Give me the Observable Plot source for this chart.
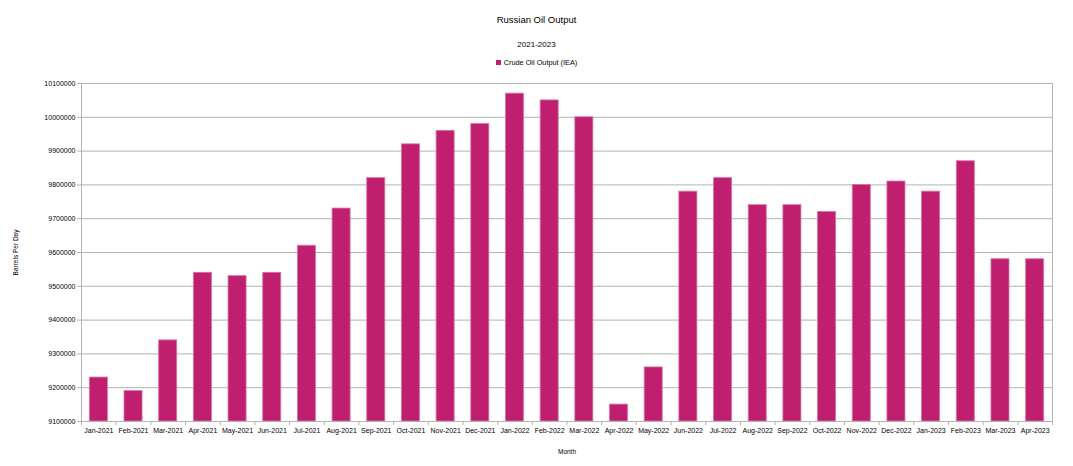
<!DOCTYPE html>
<html>
<head>
<meta charset="utf-8">
<script src="https://cdn.jsdelivr.net/npm/d3@7"></script>
<script src="https://cdn.jsdelivr.net/npm/@observablehq/plot@0.6"></script>
<style>
  body { margin: 0; background: #fff; font-family: "Liberation Sans", Arial, sans-serif; }
  #wrap { position: relative; width: 1073px; height: 466px; overflow: hidden; }
  .t { position: absolute; left: 0; width: 1073px; text-align: center; color: #000; }
  #title { top: 14px; font-size: 9.5px; }
  #subtitle { top: 40px; font-size: 8px; }
  #legend { top: 58px; font-size: 7.3px; }
  #legend .sw { display: inline-block; width: 5px; height: 5px; background: #c01f6f; margin-right: 3px; vertical-align: 0px; }
  #chart { position: absolute; top: 75px; left: 0; }
  #chart svg [aria-label="y-axis label"], #chart svg [aria-label="x-axis label"] { font-size: 6.5px; }
</style>
</head>
<body>
<div id="wrap">
  <div class="t" id="title">Russian Oil Output</div>
  <div class="t" id="subtitle">2021-2023</div>
  <div class="t" id="legend"><span class="sw"></span>Crude Oil Output (IEA)</div>
  <div id="chart"></div>
</div>
<script>
const months = ["Jan-2021","Feb-2021","Mar-2021","Apr-2021","May-2021","Jun-2021","Jul-2021","Aug-2021","Sep-2021","Oct-2021","Nov-2021","Dec-2021","Jan-2022","Feb-2022","Mar-2022","Apr-2022","May-2022","Jun-2022","Jul-2022","Aug-2022","Sep-2022","Oct-2022","Nov-2022","Dec-2022","Jan-2023","Feb-2023","Mar-2023","Apr-2023"];
const output = [9230000,9190000,9340000,9540000,9530000,9540000,9620000,9730000,9820000,9920000,9960000,9980000,10070000,10050000,10000000,9150000,9260000,9780000,9820000,9740000,9740000,9720000,9800000,9810000,9780000,9870000,9580000,9580000];
const yTicks = [9100000,9200000,9300000,9400000,9500000,9600000,9700000,9800000,9900000,10000000,10100000];

const data = months.map((m, i) => ({month: m, value: output[i]}));

const W = 1073, ML = 81, MR = 21;
const step = (W - ML - MR) / months.length;
const inset = step * 0.24;

const plot = Plot.plot({
  width: W,
  height: 391,
  marginTop: 8,
  marginBottom: 45,
  marginLeft: ML,
  marginRight: MR,
  style: {fontFamily: "Liberation Sans, Arial, sans-serif", fontSize: "7px", color: "#000", background: "#fff"},
  x: {domain: months, padding: 0, round: false},
  y: {domain: [9100000, 10100000]},
  marks: [
    Plot.gridY(yTicks, {stroke: "#b3b3b3", strokeOpacity: 1}),
    Plot.barY(data, {x: "month", y1: 9100000, y2: "value", fill: "#c01f6f", stroke: "#dc72a6", strokeWidth: 0.8, insetLeft: inset, insetRight: inset}),
    Plot.frame({stroke: "#b3b3b3"}),
    Plot.ruleX(months, {x: d => d, dx: -step / 2, y1: 9100000, y2: 9088000, stroke: "#b3b3b3"}),
    Plot.ruleX([months[months.length - 1]], {x: d => d, dx: step / 2, y1: 9100000, y2: 9088000, stroke: "#b3b3b3"}),
    Plot.axisY(yTicks, {tickFormat: d => String(d), tickSize: 4, tickPadding: 2, stroke: "#b3b3b3", label: "Barrels Per Day", labelAnchor: "center", labelArrow: "none", labelOffset: 68}),
    Plot.axisX({tickSize: 0, tickPadding: 7, label: "Month", labelAnchor: "center", labelArrow: "none", labelOffset: 32})
  ]
});
document.getElementById("chart").appendChild(plot);
</script>
</body>
</html>
